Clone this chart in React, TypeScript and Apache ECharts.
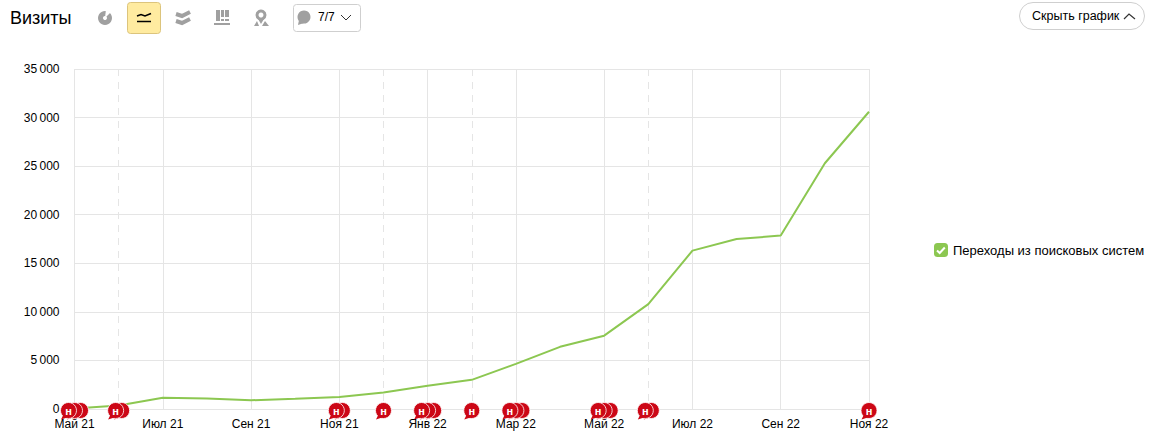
import React, { useEffect, useRef } from "react";
import * as echarts from "echarts";

const months = ["Май 21","Июн 21","Июл 21","Авг 21","Сен 21","Окт 21","Ноя 21","Дек 21","Янв 22","Фев 22","Мар 22","Апр 22","Май 22","Июн 22","Июл 22","Авг 22","Сен 22","Окт 22","Ноя 22"];
const visits = [60,350,1150,1080,900,1050,1230,1700,2400,3000,4650,6400,7550,10800,16300,17500,17850,25300,30600];
const noteCounts = [3,2,0,0,0,0,2,1,3,1,3,0,3,2,0,0,0,0,1];
const dashedMonths = ["Июн 21","Дек 21","Фев 22","Июн 22"];
const seriesName = "Переходы из поисковых систем";
const FONT = '"Liberation Sans", Arial, sans-serif';
const GRAY = "#a0a0a0";
const RED = "#cc0716";

function toolbar(): any[] {
  const g: any[] = [];
  const rect = (x:number,y:number,w:number,h:number,fill:string,stroke?:string,r=0) => g.push({type:"rect",shape:{x,y,width:w,height:h,r},style:{fill,stroke:stroke||"none",lineWidth:1}});
  const line = (points:number[][],stroke:string,lineWidth=2) => g.push({type:"polyline",shape:{points},style:{fill:"none",stroke,lineWidth}});
  const poly = (points:number[][],fill:string) => g.push({type:"polygon",shape:{points},style:{fill}});
  const text = (x:number,y:number,t:string,font:string) => g.push({type:"text",x,y,style:{text:t,fill:"#000",font,verticalAlign:"middle",align:"left"}});

  text(10,18,"Визиты",`18px ${FONT}`);
  // pie
  g.push({type:"circle",shape:{cx:105,cy:18,r:7},style:{fill:GRAY}});
  g.push({type:"circle",shape:{cx:105,cy:18,r:2},style:{fill:"#fff"}});
  poly([[105,18],[106,9],[112,11]],"#fff");
  // line (active)
  rect(127.5,2.5,33,31,"#ffeba0","#dcc47c",3);
  line([[137,16],[141,14.5],[145,16],[151,13.5]],"#000",1.6);
  line([[137,21.5],[151,21.5]],"#000",1.5);
  // area
  line([[176,14],[182,16],[190,12]],GRAY,4);
  line([[176,21],[182,23],[190,19]],GRAY,4);
  // bars
  rect(216,10,4,11,GRAY); rect(221,10,3,7,GRAY); rect(221,19,3,2,GRAY);
  rect(225,10,4,7,GRAY); rect(225,19,4,2,GRAY);
  rect(214,23,16,2,GRAY);
  // map
  g.push({type:"circle",shape:{cx:261,cy:15,r:4},style:{fill:"none",stroke:GRAY,lineWidth:3}});
  poly([[257.5,18],[264.5,18],[261,24]],GRAY);
  poly([[254,26],[257,21],[259,26]],GRAY);
  poly([[262,26],[265,21],[269,26]],GRAY);
  // comments dropdown
  rect(293.5,4.5,67,27,"#fff","#cfcfcf",3);
  g.push({type:"circle",shape:{cx:304,cy:17,r:6.5},style:{fill:GRAY}});
  poly([[299,20],[304,23],[298,25]],GRAY);
  text(318,17,"7/7",`12px ${FONT}`);
  line([[341,15],[346,20],[351,15]],"#333",1);
  // hide button
  rect(1019.5,2.5,125,27,"#fff","#cfcfcf",13.5);
  text(1032,16,"Скрыть график",`12.5px ${FONT}`);
  line([[1124,19],[1129,14],[1135,19]],"#333",1.2);
  // legend check
  g.push({type:"polyline",z:100,shape:{points:[[937,250.5],[939.7,253],[944.8,247.5]]},style:{fill:"none",stroke:"#fff",lineWidth:2}});
  return g;
}

export default function App() {
  const ref = useRef<HTMLDivElement>(null);
  useEffect(() => {
    document.body.style.margin = "0";
    const chart = echarts.init(ref.current!, undefined, { renderer: "svg" });
    chart.setOption({
      animation: false,
      textStyle: { fontFamily: FONT },
      grid: { left: 74.5, right: 286, top: 69, bottom: 37, containLabel: false },
      legend: {
        left: 929, top: 238, itemWidth: 14, itemHeight: 14, icon: "roundRect", itemGap: 0,
        selectedMode: false,
        data: [seriesName],
        textStyle: { color: "#000", fontSize: 13, fontFamily: FONT, padding: [0,0,0,0] },
      },
      xAxis: [
        {
          type: "category", data: months, boundaryGap: false,
          axisTick: { show: false },
          axisLine: { lineStyle: { color: "#e5e5e5", width: 1 } },
          axisLabel: { interval: 1, color: "#000", fontSize: 12, margin: 9, fontFamily: FONT, hideOverlap: false },
          splitLine: { show: true, interval: 1, lineStyle: { color: "#e5e5e5", width: 1 } },
        },
        {
          type: "category", data: months, boundaryGap: false, position: "bottom",
          axisTick: { show: false }, axisLine: { show: false }, axisLabel: { show: false },
          splitLine: { show: true, interval: (_: number, v: string) => dashedMonths.includes(v),
            lineStyle: { color: "#e5e5e5", width: 1, type: [7, 6] } },
        },
      ],
      yAxis: {
        type: "value", min: 0, max: 35000, interval: 5000,
        axisLine: { show: false }, axisTick: { show: false },
        axisLabel: { color: "#000", fontSize: 12, margin: 15, fontFamily: FONT, padding: [2, 0, 0, 0],
          formatter: (v: number) => String(v).replace(/\B(?=(\d{3})+$)/g, "\u2009") },
        splitLine: { lineStyle: { color: "#e5e5e5", width: 1 } },
      },
      series: [
        {
          name: seriesName, type: "line", data: visits, symbol: "none", showSymbol: false, smooth: false,
          itemStyle: { color: "#8cc751" }, lineStyle: { color: "#8cc751", width: 2 }, z: 3, clip: false,
        },
        {
          name: "Примечания", type: "custom", clip: false, z: 5, silent: true,
          data: noteCounts.map((c, i) => [i, c]).filter((d) => d[1] > 0),
          renderItem: (_: any, api: any) => {
            const idx = api.value(0), n = api.value(1);
            const [cx, y0] = api.coord([idx, 0]);
            const cy = y0 + 1.5;
            const children: any[] = [];
            for (let k = n - 1; k >= 0; k--) {
              const x = cx + (k - (n - 1) / 2) * 6;
              children.push({ type: "circle", shape: { cx: x, cy, r: 8 }, style: { fill: RED, stroke: "#fff", lineWidth: 0.8 } });
              children.push({ type: "polygon", shape: { points: [[x - 5, cy + 4], [x - 7.5, cy + 9], [x - 0.5, cy + 6.8]] }, style: { fill: RED } });
            }
            const front = cx - ((n - 1) / 2) * 6;
            children.push({ type: "text", style: { text: "н", x: front, y: cy, fill: "#fff", align: "center", verticalAlign: "middle", font: `bold 11px ${FONT}` } });
            return { type: "group", children };
          },
        },
      ],
      graphic: { elements: toolbar() },
    });
    return () => chart.dispose();
  }, []);
  return <div ref={ref} style={{ width: 1155, height: 446 }} />;
}
